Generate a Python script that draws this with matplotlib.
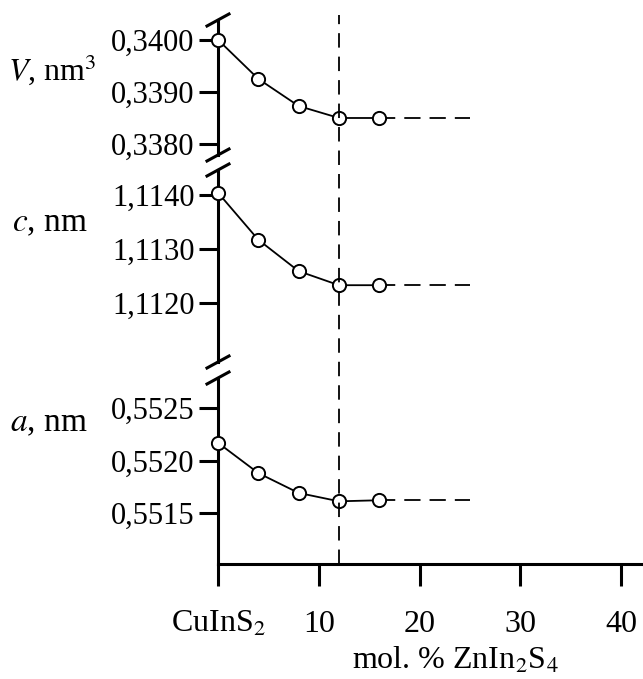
import numpy as np
import matplotlib
matplotlib.use("Agg")
import matplotlib.pyplot as plt

plt.rcParams['font.family'] = ['Liberation Serif', 'DejaVu Serif']
plt.rcParams['mathtext.fontset'] = 'stix'

# состав, мол. % ZnIn2S4
x = [0, 4, 8, 12, 16]
# параметры решётки
V = [0.3400, 0.33925, 0.33873, 0.33850, 0.33850]
c = [1.11404, 1.11317, 1.11259, 1.11233, 1.11233]
a = [0.55217, 0.55188, 0.55169, 0.55161, 0.55162]
x_end = 25   # конец пунктирного продолжения
x_lim = 12   # граница растворимости

xticks = [0, 10, 20, 30, 40]
xticklabels = ['CuInS$_2$', '10', '20', '30', '40']

W, H = 643, 679
fig = plt.figure(figsize=(W / 100, H / 100), dpi=100)

x_left, x_right = 218, 643
xmax = (x_right - x_left) / 10.08

def make_ax(top, bottom):
    return fig.add_axes([x_left / W, 1 - bottom / H, (x_right - x_left) / W, (bottom - top) / H])

axV = make_ax(20, 155)
axC = make_ax(170, 362)
axA = make_ax(378, 564)

panels = [
    (axV, V, (0.33779, 0.34038), [0.3380, 0.3390, 0.3400], ['0,3380', '0,3390', '0,3400']),
    (axC, c, (1.11091, 1.11446), [1.1120, 1.1130, 1.1140], ['1,1120', '1,1130', '1,1140']),
    (axA, a, (0.55101, 0.55279), [0.5515, 0.5520, 0.5525], ['0,5515', '0,5520', '0,5525']),
]

for ax, y, lim, ticks, labels in panels:
    ax.plot(x, y, '-', color='black', lw=1.3, zorder=2)
    ax.plot([x[-1], x_end], [y[-1], y[-1]], color='black', lw=1.3, dashes=(9, 5), zorder=1)
    ax.plot(x, y, 'o', ms=9.5, mfc='white', mec='black', mew=1.4, zorder=3, clip_on=False)
    ax.set_xlim(0, xmax)
    ax.set_ylim(*lim)
    ax.set_yticks(ticks)
    ax.set_yticklabels(labels)
    ax.patch.set_alpha(0)
    for s in ['top', 'right', 'bottom']:
        ax.spines[s].set_visible(False)
    ax.spines['left'].set_linewidth(2.2)
    ax.tick_params(axis='y', direction='out', length=14, width=2.2, pad=3, labelsize=22)
    ax.tick_params(axis='x', bottom=False, labelbottom=False)

axA.spines['bottom'].set_visible(True)
axA.spines['bottom'].set_linewidth(2.2)
axA.set_xticks(xticks)
axA.set_xticklabels(xticklabels)
axA.tick_params(axis='x', bottom=True, labelbottom=True, direction='out',
                length=16, width=2.2, pad=17, labelsize=23)

# общая вертикальная пунктирная линия
axL = make_ax(15, 564)
axL.set_xlim(0, xmax)
axL.set_ylim(0, 1)
axL.axis('off')
axL.axvline(x_lim, color='black', lw=1.3, dashes=(8, 5))

# знаки разрыва оси
def slash(ax, yfrac):
    w = (x_right - x_left)
    h = ax.get_position().height * H
    dx, dy = 11 / w, 6 / h
    ax.plot([-dx, dx], [yfrac - dy, yfrac + dy], transform=ax.transAxes,
            color='black', lw=2.2, clip_on=False)

slash(axV, 1.0)
slash(axV, 0.0)
slash(axC, 1.0)
slash(axC, 0.0)
slash(axA, 1.0)

fig.text(8 / W, 1 - 70 / H, '$V$, nm$^3$', fontsize=23, va='center', ha='left')
fig.text(12 / W, 1 - 223 / H, '$c$, nm', fontsize=24, va='center', ha='left')
fig.text(10 / W, 1 - 423 / H, '$a$, nm', fontsize=24, va='center', ha='left')
fig.text(455 / W, 1 - 676 / H, 'mol. % ZnIn$_2$S$_4$', fontsize=23, va='bottom', ha='center')

fig.savefig('out.png', dpi=100)
